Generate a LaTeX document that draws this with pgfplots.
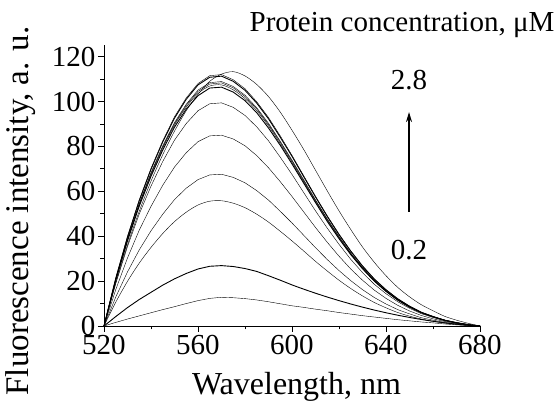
\documentclass[border=0pt]{standalone}
\usepackage{pgfplots}
\pgfplotsset{compat=1.18}
\usepackage{pgfplotstable}
\usepackage{fontspec}
\setmainfont{Liberation Serif}
\newfontfamily\tms{Liberation Serif}
\usetikzlibrary{arrows.meta}
\pgfplotstableread{
lam  c1   c2   c3   c4   c5   c6   c7    c8    c9    c10   c11   c11b  c12
520  0    0    0    0    0    0    0     0     0     0     0     0     0
525  1.6  4.2  10.6 12.9 16.2 18.9 20.3  20.5  20.6  20.7  21.3  21.2  19.1
530  3.1  8.2  19.9 24.1 30.3 35.4 37.9  38.2  38.6  38.8  39.9  39.6  36.1
535  4.5  11.8 28.0 33.9 42.7 49.9 53.4  53.9  54.3  54.6  56.2  55.8  51.1
540  5.9  15.0 35.0 42.4 53.3 62.3 66.7  67.3  67.9  68.3  70.2  69.8  64.5
545  7.3  18.2 41.2 49.8 62.7 73.3 78.4  79.2  79.8  80.3  82.5  82.0  76.3
550  8.6  21.0 46.5 56.3 70.8 82.8 88.6  89.4  90.1  90.6  93.2  92.6  86.8
555  10.0 23.4 50.7 61.4 77.2 90.2 96.6  97.5  98.3  98.8  101.6 101.0 95.9
560  11.3 25.4 53.9 65.2 82.1 95.9 102.6 103.6 104.5 105.1 108.0 107.4 103.2
565  12.3 26.6 55.6 67.3 84.7 99.0 106.0 106.9 107.8 108.4 111.5 110.8 109.0
570  12.8 26.9 55.8 67.6 85.0 99.4 106.4 107.4 108.3 108.9 112.0 111.3 112.2
575  12.6 26.5 54.7 66.2 83.3 97.4 104.2 105.2 106.1 106.7 109.7 109.0 113.3
580  12.2 25.6 52.7 63.8 80.3 93.8 100.4 101.3 102.2 102.8 105.7 105.0 111.4
585  11.6 24.3 49.8 60.3 75.9 88.7 95.0  95.9  96.7  97.2  99.9  99.3  107.6
590  10.8 22.4 46.3 56.1 70.5 82.5 88.2  89.1  89.8  90.3  92.9  92.3  102.2
595  9.9  20.4 42.2 51.1 64.3 75.2 80.5  81.2  81.9  82.3  84.7  84.1  95.3
600  9.0  18.3 37.9 45.9 57.7 67.5 72.2  72.9  73.5  73.9  76.0  75.6  87.2
605  8.3  16.4 33.4 40.4 50.8 59.4 63.6  64.2  64.7  65.1  66.9  66.5  78.6
610  7.5  14.6 28.8 34.9 43.9 51.3 55.0  55.5  55.9  56.2  57.8  57.5  69.4
615  6.8  12.9 24.5 29.6 37.3 43.6 46.6  47.1  47.5  47.7  49.1  48.8  60.2
620  6.0  11.3 20.4 24.7 31.1 36.4 38.9  39.3  39.6  39.9  41.0  40.7  51.3
625  5.3  9.8  16.7 20.2 25.4 29.7 31.8  32.1  32.4  32.5  33.5  33.3  43.0
630  4.6  8.4  13.4 16.2 20.4 23.8 25.5  25.7  26.0  26.1  26.8  26.7  35.2
635  4.0  7.1  10.5 12.7 16.0 18.6 20.0  20.1  20.3  20.4  21.0  20.9  28.4
640  3.4  5.9  8.1  9.8  12.3 14.4 15.4  15.5  15.6  15.7  16.2  16.1  22.4
645  2.8  4.8  6.0  7.3  9.2  10.8 11.5  11.6  11.7  11.8  12.1  12.1  17.2
650  2.3  3.8  4.4  5.4  6.7  7.9  8.4   8.5   8.6   8.6   8.9   8.8   13.0
655  1.8  2.9  3.1  3.7  4.7  5.5  5.9   5.9   6.0   6.0   6.2   6.1   9.5
660  1.4  2.1  2.1  2.6  3.2  3.8  4.1   4.1   4.1   4.1   4.3   4.2   6.8
665  0.9  1.4  1.3  1.6  2.0  2.3  2.5   2.5   2.6   2.6   2.6   2.6   4.3
670  0.5  0.8  0.7  0.9  1.1  1.3  1.4   1.4   1.4   1.4   1.5   1.5   2.6
675  0.2  0.3  0.3  0.4  0.5  0.5  0.6   0.6   0.6   0.6   0.6   0.6   1.2
680  0    0    0    0    0    0    0     0     0     0     0     0     0
}\spectra
\begin{document}
\begin{tikzpicture}[font=\tms\fontsize{29}{33}\selectfont]
\begin{axis}[
  scale only axis,
  width=376pt, height=280.6pt,
  xmin=520, xmax=680, ymin=0, ymax=125,
  axis x line*=bottom, axis y line*=left,
  axis line style={-, line width=0.8pt},
  xtick={520,560,600,640,680},
  ytick={0,20,40,60,80,100,120},
  minor x tick num=1, minor y tick num=1,
  tick align=outside,
  major tick length=6pt, minor tick length=3.5pt,
  tick style={black, line width=0.8pt},
  /pgf/number format/assume math mode=true,
  ticklabel style={font=\tms\fontsize{29}{33}\selectfont},
  xticklabel style={/pgf/number format/1000 sep={}},
  yticklabel style={xshift=1pt},
  xlabel={Wavelength, nm},
  ylabel={Fluorescence intensity, a. u.},
  xlabel style={font=\tms\fontsize{32}{36}\selectfont, at={(axis description cs:0.512,0)}, anchor=center, yshift=-61pt},
  ylabel style={font=\tms\fontsize{33}{37}\selectfont, at={(axis description cs:-0.222,0.41)}, anchor=center},
  clip=false,
  cycle list={{black, line width=0.9pt, smooth, tension=0.5, no markers}},
]
\addplot table[x=lam, y=c1] {\spectra};
\addplot table[x=lam, y=c2] {\spectra};
\addplot table[x=lam, y=c3] {\spectra};
\addplot table[x=lam, y=c4] {\spectra};
\addplot table[x=lam, y=c5] {\spectra};
\addplot table[x=lam, y=c6] {\spectra};
\addplot table[x=lam, y=c7] {\spectra};
\addplot table[x=lam, y=c8] {\spectra};
\addplot table[x=lam, y=c9] {\spectra};
\addplot table[x=lam, y=c10] {\spectra};
\addplot table[x=lam, y=c11] {\spectra};
\addplot table[x=lam, y=c11b] {\spectra};
\addplot table[x=lam, y=c12] {\spectra};
\node at (axis cs:646.8,134) {Protein concentration, μM};
\node at (axis cs:649.8,109.6) {2.8};
\node at (axis cs:649.8,33.9) {0.2};
\draw[-{Stealth[length=10pt,width=6pt]}, line width=1.3pt] (axis cs:649.8,50.8) -- (axis cs:649.8,95.3);
\coordinate (O) at (axis cs:520,0);
\end{axis}
\pgfresetboundingbox
\path[use as bounding box] ([xshift=-104pt,yshift=-75pt]O) rectangle ([xshift=454pt,yshift=326pt]O);
\end{tikzpicture}
\end{document}
